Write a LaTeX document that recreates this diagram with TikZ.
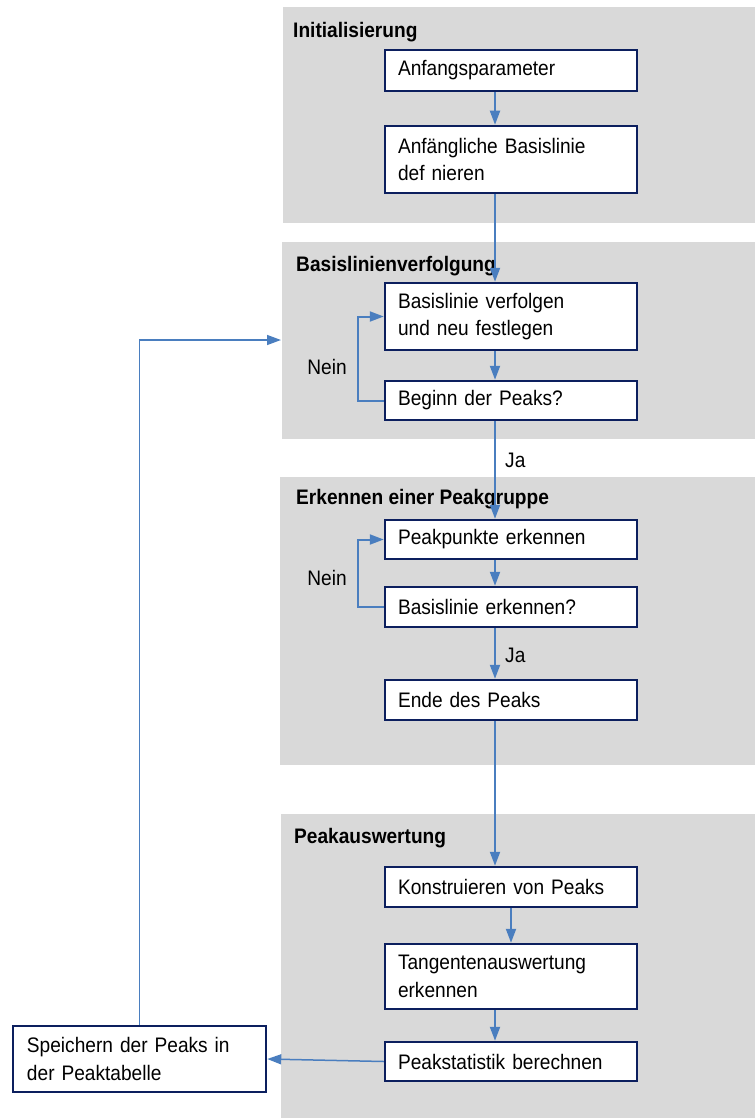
\documentclass[tikz,border=0pt]{standalone}
\usepackage{fontspec}
\setmainfont{Liberation Sans}[FakeStretch=0.91]
\usetikzlibrary{arrows.meta}
\definecolor{panelgray}{HTML}{D9D9D9}
\definecolor{boxnavy}{HTML}{0C1F5E}
\definecolor{arrblue}{HTML}{4A7EBF}
\begin{document}
\begin{tikzpicture}[x=1pt,y=-1pt,
  txt/.style={font=\fontsize{21}{27.5}\selectfont, inner sep=0pt},
  ttl/.style={font=\bfseries\fontsize{21}{27.5}\selectfont, inner sep=0pt, anchor=base west},
  stepbox/.style={draw=boxnavy, line width=2.5pt, fill=white, minimum width=252pt,
    text width=226pt, inner xsep=13pt, inner ysep=0pt, align=left,
    font=\fontsize{21}{27.5}\selectfont, anchor=center},
  arr/.style={draw=arrblue, line width=2pt, -{Triangle[length=14pt,width=10pt]}},
  panel/.style={fill=panelgray}
]
\useasboundingbox (0,0) rectangle (755,1118);
% panels
\fill[panel] (283,7) rectangle (755,223);
\fill[panel] (282,242) rectangle (755,439);
\fill[panel] (280,477) rectangle (755,765);
\fill[panel] (281,814) rectangle (755,1118);
% titles
\node[ttl] (t1) at (293,38) {Initialisierung};
\node[ttl] (t2) at (296,271) {Basislinienverfolgung};
\node[ttl] (t3) at (296,504) {Erkennen einer Peakgruppe};
\node[ttl] (t4) at (294,843) {Peakauswertung};
% boxes
\node[stepbox, minimum height=41pt] (b1) at (511,70.5) {Anfangsparameter};
\node[stepbox, minimum height=67pt] (b2) at (511,159.5) {Anfängliche Basislinie\\def nieren};
\node[stepbox, minimum height=67pt] (b3) at (511,316.5) {Basislinie verfolgen\\und neu festlegen};
\node[stepbox, minimum height=39pt] (b4) at (511,400.5) {Beginn der Peaks?};
\node[stepbox, minimum height=39pt] (b5) at (511,539.5) {Peakpunkte erkennen};
\node[stepbox, minimum height=40pt] (b6) at (511,607) {Basislinie erkennen?};
\node[stepbox, minimum height=40pt] (b7) at (511,700) {Ende des Peaks};
\node[stepbox, minimum height=40pt] (b8) at (511,887) {Konstruieren von Peaks};
\node[stepbox, minimum height=65pt] (b9) at (511,976.5) {Tangentenauswertung\\erkennen};
\node[stepbox, minimum height=39pt] (b10) at (511,1061.5) {Peakstatistik berechnen};
\node[stepbox, minimum height=66pt, minimum width=253pt, text width=225pt, inner xsep=14pt] (b11) at (139.5,1059) {Speichern der Peaks in\\der Peaktabelle};
% labels
\node[txt] (n1) at (327,367) {Nein};
\node[txt] (n2) at (327,578) {Nein};
\node[txt, anchor=west] (j1) at (505,460) {Ja};
\node[txt, anchor=west] (j2) at (505,655) {Ja};
\coordinate (ret) at (281,340);
% connectors
\draw[arr] ([xshift=-16pt]b1.south) -- ([xshift=-16pt]b2.north);
\draw[arr] ([xshift=-16pt]b2.south) -- ([xshift=-16pt]b3.north);
\draw[arr] ([xshift=-16pt]b3.south) -- ([xshift=-16pt]b4.north);
\draw[arr] ([xshift=-16pt]b4.south) -- ([xshift=-16pt]b5.north);
\draw[arr] ([xshift=-16pt]b5.south) -- ([xshift=-16pt]b6.north);
\draw[arr] ([xshift=-16pt]b6.south) -- ([xshift=-16pt]b7.north);
\draw[arr] ([xshift=-16pt]b7.south) -- ([xshift=-16pt]b8.north);
\draw[arr] (b8.south) -- (b9.north);
\draw[arr] ([xshift=-16pt]b9.south) -- ([xshift=-16pt]b10.north);
\draw[arr] (b4.west) -- ++(-26,0) |- (b3.west);
\draw[arr] (b6.west) -- ++(-26,0) |- (b5.west);
\draw[arr, line width=1.5pt] (b10.west) -- (b11.east);
\draw[arr, line width=1.5pt] (b11.north) |- (ret);
\end{tikzpicture}
\end{document}
